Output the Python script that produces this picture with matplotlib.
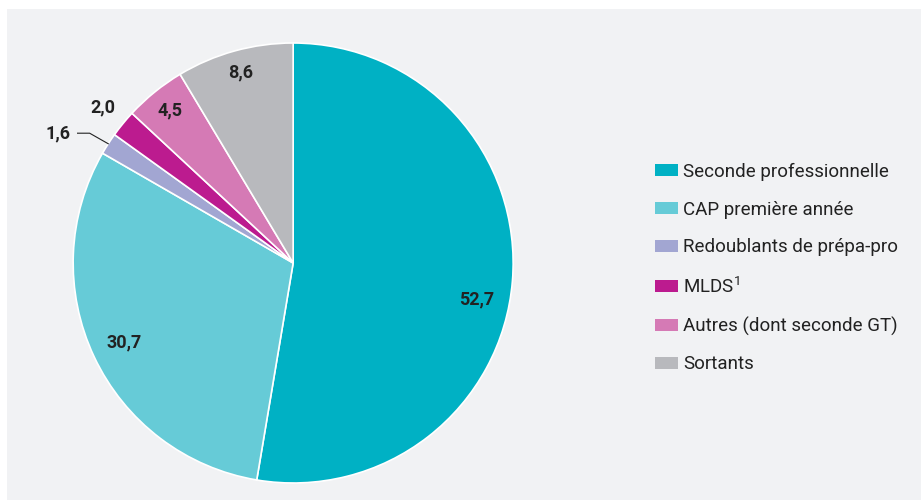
import numpy as np
import matplotlib.pyplot as plt
from matplotlib.patches import Rectangle, Patch

plt.rcParams['font.family'] = ['Roboto', 'DejaVu Sans']

categories = ['Seconde professionnelle', 'CAP première année', 'Redoublants de prépa-pro',
              'MLDS$^{\\mathregular{1}}$', 'Autres (dont seconde GT)', 'Sortants']
values = [52.7, 30.7, 1.6, 2.0, 4.5, 8.6]
value_labels = ['52,7', '30,7', '1,6', '2,0', '4,5', '8,6']
colors = ['#00b1c4', '#66cbd7', '#a2a6d2', '#bc1b8f', '#d57ab5', '#b8b9bd']

fig = plt.figure(figsize=(9.21, 5), dpi=100)
fig.patch.set_facecolor('white')
fig.patches.append(Rectangle((7 / 921, 0), 1, 1 - 9 / 500, transform=fig.transFigure,
                             facecolor='#f1f2f4', edgecolor='none', zorder=-10))

ax = fig.add_axes([0.0794, 0.034, 0.4778, 0.88])
wedges, _ = ax.pie(values, colors=colors, startangle=90, counterclock=False,
                   wedgeprops=dict(edgecolor='white', linewidth=1.2))
ax.set_aspect('equal')
ax.set_xlim(-1, 1)
ax.set_ylim(-1, 1)
ax.axis('off')

# label radius per wedge (inside for big ones, outside for the small ones)
label_r = [0.85, 0.85, None, 1.12, 0.89, 0.90]
angle_shift = [-6.5, 0, 0, 0, 0, 0]
for w, lab, r, sh in zip(wedges, value_labels, label_r, angle_shift):
    mid = np.deg2rad((w.theta1 + w.theta2) / 2 + sh)
    if r is None:
        # leader line for the small slice
        x0, y0 = np.cos(mid), np.sin(mid)
        ax.plot([x0, -0.925, -0.98], [y0, 0.59, 0.59], color='#222222', lw=0.8,
                clip_on=False)
        ax.text(-1.01, 0.59, lab, ha='right', va='center', fontsize=13,
                fontweight='bold', color='#222222')
        continue
    ax.text(r * np.cos(mid), r * np.sin(mid), lab, ha='center', va='center',
            fontsize=13, fontweight='bold', color='#222222')

handles = [Patch(facecolor=c, edgecolor='none') for c in colors]
fig.legend(handles, categories, loc='center left', bbox_to_anchor=(0.693, 0.464),
           frameon=False, fontsize=13.5, handlelength=1.2, handleheight=0.6,
           handletextpad=0.3, labelspacing=1.05, labelcolor='#222222')

fig.savefig('out.png', dpi=100)
